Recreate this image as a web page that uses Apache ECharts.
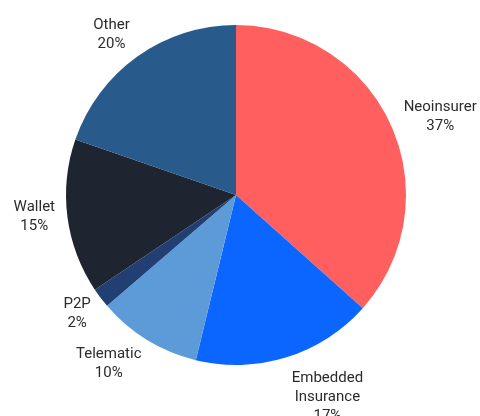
<!DOCTYPE html>
<html>
<head>
<meta charset="utf-8">
<script src="https://cdn.jsdelivr.net/npm/echarts@6/dist/echarts.min.js"></script>
<style>
  html, body { margin: 0; padding: 0; background: #ffffff; }
  #chart { width: 480px; height: 416px; }
</style>
</head>
<body>
<div id="chart"></div>
<script>
var categories = ['Neoinsurer', 'Embedded Insurance', 'Telematic', 'P2P', 'Wallet', 'Other'];
var shares = [36.6, 17.2, 9.9, 1.9, 14.7, 19.7];
var sliceColors = ['#FF5F5F', '#0A66FF', '#5C9BD8', '#213F73', '#1E2531', '#285B8C'];

var CX = 236, CY = 195, R = 170;
var total = shares.reduce(function (a, b) { return a + b; }, 0);

var chart = echarts.init(document.getElementById('chart'), null, { renderer: 'canvas' });
chart.setOption({
  animation: false,
  backgroundColor: '#ffffff',
  series: [{
    type: 'pie',
    center: [CX, CY],
    radius: R,
    startAngle: 90,
    clockwise: true,
    avoidLabelOverlap: false,
    data: categories.map(function (c, i) {
      return { name: c, value: shares[i], itemStyle: { color: sliceColors[i] } };
    }),
    label: {
      show: true,
      position: 'outside',
      fontFamily: 'Roboto',
      fontSize: 15,
      lineHeight: 19,
      color: '#2b2b2b',
      formatter: function (p) {
        return p.name.replace(' ', '\n') + '\n' + Math.round(p.percent) + '%';
      }
    },
    labelLine: { show: false },
    emphasis: { disabled: true },
    labelLayout: function (p) {
      var i = p.dataIndex;
      var before = 0;
      for (var k = 0; k < i; k++) before += shares[k];
      var mid = (before + shares[i] / 2) / total * 2 * Math.PI;
      var vx = Math.sin(mid), vy = -Math.cos(mid);
      var w = p.labelRect.width, h = p.labelRect.height;
      var gx = 0.7 + 0.4 * Math.abs(vx);
      var x = CX + R * vx + Math.sign(vx) * (w / 2 + h / 4) * gx;
      var y = CY + R * vy + Math.sign(vy) * (h / 2) * Math.max(0, 1.7 * Math.abs(vy) - 0.22);
      return { x: x, y: y, align: 'center', verticalAlign: 'middle' };
    }
  }]
});
</script>
</body>
</html>
